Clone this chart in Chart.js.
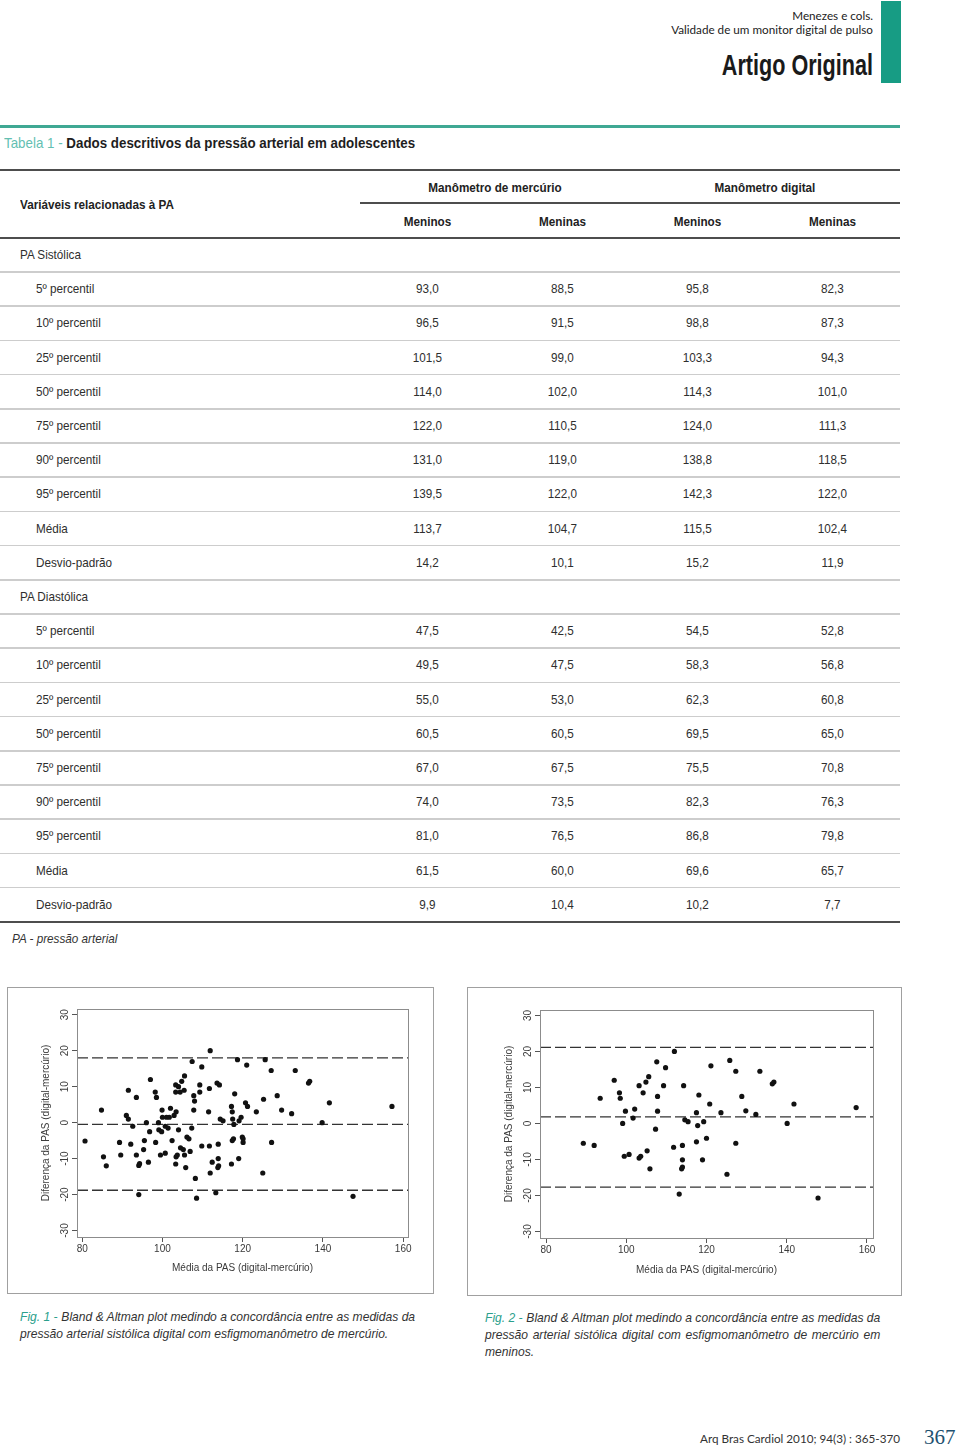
<!DOCTYPE html>
<html lang="pt">
<head>
<meta charset="utf-8">
<script src="https://cdn.jsdelivr.net/npm/chart.js@4.4.1/dist/chart.umd.min.js"></script>
<style>
  body { margin: 0; width: 960px; height: 1451px; position: relative; background: #fff; overflow: hidden;
         font-family: "Liberation Sans Narrow", "Liberation Sans", Arial, sans-serif; color: #2e2e2e; }
  .abs { position: absolute; white-space: nowrap; }
  .cab { font-family: Lato, "Open Sans", sans-serif; font-size: 11.7px; color: #222; right: 87px; }
  #artigo { right: 87px; top: 48px; font-size: 30px; font-weight: bold; color: #1a1a1a; transform: scaleX(0.72); transform-origin: right center; }
  #barra { left: 881px; top: 1px; width: 20px; height: 82px; background: #179c84; }
  #linhaVerde { left: 0; top: 125px; width: 900px; height: 2.5px; background: #3fa893; }
  #tabTitulo { left: 4px; top: 134px; font-size: 15px; font-weight: bold; color: #1e1e1e; transform: scaleX(0.89); transform-origin: left center; }
  #tabTitulo span { color: #63bfb2; font-weight: normal; }
  .regra { position: absolute; background: #4d4d4d; }
  .fina { position: absolute; background: #cdcdcd; left: 0; width: 900px; height: 1.5px; }
  .hd { font-weight: bold; font-size: 13px; color: #222; transform: scaleX(0.9); }
  .esq { transform-origin: left center; }
  .cel { position: absolute; font-size: 13px; text-align: center; width: 135px; transform: scaleX(0.9); }
  .rot { position: absolute; font-size: 13px; white-space: nowrap; transform: scaleX(0.9); transform-origin: left center; }
  .caixa { position: absolute; border: 1px solid #a0a0a0; box-sizing: border-box; }
  .leg { position: absolute; font-size: 13px; font-style: italic; line-height: 17px; color: #333;
         transform: scaleX(0.93); transform-origin: left top; white-space: nowrap; }
  .leg .ln { display: flex; gap: 4px; }
  .leg .fig { color: #2aa08c; }
  .leg .just { flex: 1; text-align: justify; text-align-last: justify; }
</style>
</head>
<body>
<div class="abs cab" style="top:8px">Menezes e cols.</div>
<div class="abs cab" style="top:22px">Validade de um monitor digital de pulso</div>
<div class="abs" id="artigo">Artigo Original</div>
<div class="abs" id="barra"></div>
<div class="abs" id="linhaVerde"></div>
<div class="abs" id="tabTitulo"><span>Tabela 1 -</span> Dados descritivos da pressão arterial em adolescentes</div>
<div id="tabela"></div>
<div class="abs" style="left:12px;top:931px;font-size:13px;font-style:italic;color:#333;transform:scaleX(0.9);transform-origin:left center">PA - pressão arterial</div>

<div class="caixa" style="left:7px;top:987px;width:427px;height:307px"><canvas id="fig1" width="425" height="305"></canvas></div>
<div class="caixa" style="left:467px;top:987px;width:435px;height:309px"><canvas id="fig2" width="433" height="307"></canvas></div>

<div class="leg" style="left:20px;top:1308px;width:430px">
  <div class="ln"><span class="fig">Fig. 1 -</span><span>Bland &amp; Altman plot medindo a concordância entre as medidas da</span></div>
  <div>pressão arterial sistólica digital com esfigmomanômetro de mercúrio.</div>
</div>
<div class="leg" style="left:485px;top:1309px;width:425px">
  <div class="ln"><span class="fig">Fig. 2 -</span><span class="just">Bland &amp; Altman plot medindo a concordância entre as medidas da</span></div>
  <div class="just">pressão arterial sistólica digital com esfigmomanômetro de mercúrio em</div>
  <div>meninos.</div>
</div>

<div class="abs" style="right:60px;top:1431px;font-family:Lato,'Open Sans',sans-serif;font-size:11.7px;color:#333">Arq Bras Cardiol 2010; 94(3) : 365-370</div>
<div class="abs" style="left:924px;top:1425px;font-family:'Liberation Serif',serif;font-size:21px;color:#1f5170">367</div>

<script>
// Tabela 1
const grupos = ['PA Sistólica', 'PA Diastólica'];
const linhas = ['5º percentil', '10º percentil', '25º percentil', '50º percentil', '75º percentil',
                '90º percentil', '95º percentil', 'Média', 'Desvio-padrão'];
const sisMercMeninos = [93.0, 96.5, 101.5, 114.0, 122.0, 131.0, 139.5, 113.7, 14.2];
const sisMercMeninas = [88.5, 91.5, 99.0, 102.0, 110.5, 119.0, 122.0, 104.7, 10.1];
const sisDigMeninos = [95.8, 98.8, 103.3, 114.3, 124.0, 138.8, 142.3, 115.5, 15.2];
const sisDigMeninas = [82.3, 87.3, 94.3, 101.0, 111.3, 118.5, 122.0, 102.4, 11.9];
const diaMercMeninos = [47.5, 49.5, 55.0, 60.5, 67.0, 74.0, 81.0, 61.5, 9.9];
const diaMercMeninas = [42.5, 47.5, 53.0, 60.5, 67.5, 73.5, 76.5, 60.0, 10.4];
const diaDigMeninos = [54.5, 58.3, 62.3, 69.5, 75.5, 82.3, 86.8, 69.6, 10.2];
const diaDigMeninas = [52.8, 56.8, 60.8, 65.0, 70.8, 76.3, 79.8, 65.7, 7.7];

// Fig. 1 - todos (média x diferença)
const fig1Media = [80.7, 84.8, 85.3, 86.0, 89.3, 89.6, 91.0, 91.5, 91.5, 92.1, 92.6, 93.5, 93.5, 94.1, 94.1,
  94.3, 95.3, 95.5, 96.0, 96.5, 96.8, 97.0, 98.2, 98.3, 98.5, 99.0, 99.1, 99.5, 99.8, 99.9, 100.0, 100.7,
  100.7, 101.0, 101.4, 101.7, 102.0, 102.4, 102.9, 103.3, 103.3, 103.3, 103.4, 103.4, 103.7, 104.0, 104.0,
  104.4, 104.5, 104.8, 105.2, 105.4, 105.5, 105.5, 105.8, 106.1, 106.6, 106.9, 107.3, 107.4, 107.8, 107.8,
  108.0, 108.2, 108.5, 109.3, 109.3, 109.8, 109.8, 111.5, 111.7, 111.7, 111.9, 111.9, 112.4, 113.3, 113.6,
  113.8, 113.9, 113.9, 114.0, 114.2, 114.4, 115.1, 117.2, 117.2, 117.4, 117.4, 117.5, 117.7, 117.8, 118.0,
  118.7, 119.0, 119.1, 119.6, 119.9, 120.1, 120.1, 120.7, 121.0, 121.2, 123.4, 125.0, 125.2, 125.6, 127.1,
  127.2, 128.6, 129.7, 132.2, 133.1, 136.4, 136.7, 139.8, 141.6, 147.5, 157.2];
const fig1Dif = [-5.1, 3.5, -9.5, -12.0, -5.5, -9.0, 2.0, 1.0, 9.0, -6.0, -1.0, 7.0, -9.0, -20.0, -11.9,
  -11.4, -7.5, -5.0, 0.0, -11.0, -2.5, 12.0, 8.5, -5.5, 7.0, 0.0, -2.0, -9.0, -2.5, 3.5, 1.5, -1.0,
  -8.5, 1.5, -1.5, 1.5, 4.0, -5.0, 2.0, 8.5, 10.5, -11.5, 3.0, -9.5, -9.0, -2.0, 10.0,
  8.5, -7.0, 11.5, -7.5, 9.0, 13.0, -9.0, -12.5, -4.0, -4.5, -8.0, -1.5, 17.0, 7.5, 3.5,
  6.0, -15.5, -21.0, 8.5, 10.5, 15.5, -6.5, 3.0, 9.5, -6.5, 20.0, -14.0, -11.0, -19.5, 11.0,
  -12.5, -6.0, -10.0, -12.0, 10.5, 1.0, 0.5, 4.5, -11.5, 3.0, -5.0, 1.0, -4.5, -0.5, 8.0,
  17.5, -10.0, 0.5, 1.5, -4.0, -4.5, -5.5, 5.5, 16.0, 4.5, 3.0, -14.0, 6.5, 17.5, 14.5,
  -5.5, 7.5, 3.5, 2.5, 14.5, 11.0, 11.5, 0.0, 5.5, -20.5, 4.5];
const fig1Linhas = [18.0, -0.5, -18.8];

// Fig. 2 - meninos
const fig2Media = [89.3, 92.0, 93.5, 97.0, 98.3, 98.5, 99.1, 99.5, 99.8, 100.7, 101.7, 102.1, 103.2, 103.2,
  103.6, 104.2, 104.9, 105.2, 105.6, 105.9, 107.3, 107.6, 107.8, 107.8, 109.3, 109.8, 111.8, 112.0, 113.2,
  113.8, 114.0, 114.0, 114.0, 114.3, 114.6, 115.4, 117.5, 117.5, 117.8, 118.1, 119.0, 119.3, 120.0, 120.8,
  121.1, 123.6, 125.1, 125.8, 127.3, 127.3, 128.8, 129.8, 132.3, 133.3, 136.4, 136.8, 140.1, 141.8, 147.8, 157.3];
const fig2Dif = [-5.5, -6.1, 7.0, 12.0, 8.5, 7.0, 0.0, -9.1, 3.4, -8.6, 1.5, 4.0, 10.5, -9.6,
  -9.1, 8.5, 11.5, -7.6, 13.0, -12.6, -1.6, 17.1, 7.5, 3.4, 10.5, 15.5, -6.6, 20.0, -19.6,
  -12.6, -12.1, -6.1, -10.1, 10.5, 1.0, 0.5, 3.0, -5.1, -0.6, 7.9, -10.1, 0.5, -4.1, 5.4,
  16.0, 3.0, -14.1, 17.5, 14.5, -5.5, 7.5, 3.5, 2.5, 14.5, 11.0, 11.5, 0.0, 5.4, -20.7, 4.4];
const fig2Linhas = [21.1, 1.85, -17.7];

const eixoX = [80, 100, 120, 140, 160];
const eixoY = [-30, -20, -10, 0, 10, 20, 30];

// ---- monta a tabela
const tab = document.getElementById('tabela');
function add(cls, css, txt) {
  const d = document.createElement('div');
  d.className = cls;
  d.style.cssText = css;
  if (txt !== undefined) d.textContent = txt;
  tab.appendChild(d);
}
const colX = [360, 495, 630, 765];
add('regra', 'left:0;top:169px;width:900px;height:2px');
add('abs hd', 'left:360px;width:270px;text-align:center;top:180px', 'Manômetro de mercúrio');
add('abs hd', 'left:630px;width:270px;text-align:center;top:180px', 'Manômetro digital');
add('regra', 'left:360px;top:202px;width:540px;height:1.5px');
add('abs hd esq', 'left:20px;top:197px', 'Variáveis relacionadas à PA');
['Meninos', 'Meninas', 'Meninos', 'Meninas'].forEach((t, k) =>
  add('abs hd', `left:${colX[k]}px;width:135px;text-align:center;top:214px`, t));
add('regra', 'left:0;top:237px;width:900px;height:2px');

const blocos = [[sisMercMeninos, sisMercMeninas, sisDigMeninos, sisDigMeninas],
                [diaMercMeninos, diaMercMeninas, diaDigMeninos, diaDigMeninas]];
const fmt = v => v.toFixed(1).replace('.', ',');
const altura = 34.2;
let r = 0;
grupos.forEach((g, gi) => {
  const top = 238 + r * altura;
  add('rot', `left:20px;top:${top}px;line-height:${altura}px`, g);
  add('fina', `top:${top + altura - 1}px`);
  r++;
  linhas.forEach((l, li) => {
    const t = 238 + r * altura;
    add('rot', `left:36px;top:${t}px;line-height:${altura}px`, l);
    blocos[gi].forEach((serie, k) =>
      add('cel', `left:${colX[k]}px;top:${t}px;line-height:${altura}px`, fmt(serie[li])));
    if (!(gi === 1 && li === linhas.length - 1)) add('fina', `top:${t + altura - 1}px`);
    r++;
  });
});
add('regra', `left:0;top:${238 + r * altura - 1}px;width:900px;height:2px`);

// ---- gráficos Bland & Altman
const fonte = { family: '"Liberation Sans", Arial, sans-serif', size: 10 };
const corTexto = '#3a3a3a';

const moldura = {
  id: 'moldura',
  afterDatasetsDraw(chart) {
    const a = chart.chartArea, ctx = chart.ctx;
    ctx.save();
    ctx.strokeStyle = '#8c8c8c';
    ctx.lineWidth = 1;
    ctx.strokeRect(Math.round(a.left) + 0.5, Math.round(a.top) + 0.5, Math.round(a.width), Math.round(a.height));
    ctx.restore();
  }
};

function blandAltman(id, media, dif, limites, lim, lay) {
  const pontos = media.map((m, i) => ({ x: m, y: dif[i] }));
  const tracejadas = limites.map(v => ({
    data: [{ x: lim.x[0], y: v }, { x: lim.x[1], y: v }],
    showLine: true, pointRadius: 0, borderColor: '#333', borderWidth: 1.3, borderDash: [11, 4]
  }));
  new Chart(document.getElementById(id), {
    type: 'scatter',
    data: {
      datasets: [{ data: pontos, pointRadius: 2.6, pointHoverRadius: 2.6, backgroundColor: '#111', borderWidth: 0 },
                 ...tracejadas]
    },
    options: {
      responsive: false,
      animation: false,
      events: [],
      layout: { padding: { top: lay.top, right: lay.right, left: 0, bottom: 0 } },
      plugins: { legend: { display: false }, tooltip: { enabled: false } },
      scales: {
        x: {
          type: 'linear', min: lim.x[0], max: lim.x[1],
          afterBuildTicks: s => { s.ticks = eixoX.map(v => ({ value: v })); },
          afterFit: s => { s.height = lay.xH; },
          grid: { drawOnChartArea: false, tickLength: 5, tickColor: '#555' },
          border: { display: false },
          ticks: { font: fonte, color: corTexto, padding: 1, maxRotation: 0 },
          title: { display: true, text: 'Média da PAS (digital-mercúrio)', font: fonte, color: corTexto,
                   padding: { top: 0, bottom: lay.xTitle } }
        },
        y: {
          type: 'linear', min: lim.y[0], max: lim.y[1],
          afterBuildTicks: s => { s.ticks = eixoY.map(v => ({ value: v })); },
          afterFit: s => { s.width = lay.yW; },
          grid: { drawOnChartArea: false, tickLength: 5, tickColor: '#555' },
          border: { display: false },
          ticks: { font: fonte, color: corTexto, padding: 0, minRotation: 90, maxRotation: 90, crossAlign: 'center' },
          title: { display: true, text: 'Diferença da PAS (digital-mercúrio)', font: fonte, color: corTexto,
                   padding: { top: lay.yTitle, bottom: 0 } }
        }
      }
    },
    plugins: [moldura]
  });
}

blandAltman('fig1', fig1Media, fig1Dif, fig1Linhas,
  { x: [78.7, 161.2], y: [-31.8, 31.6] },
  { top: 21, right: 25, xH: 56, yW: 69, xTitle: 19, yTitle: 32 });
blandAltman('fig2', fig2Media, fig2Dif, fig2Linhas,
  { x: [78.5, 161.5], y: [-31.8, 31.5] },
  { top: 22, right: 28, xH: 57, yW: 72, xTitle: 19, yTitle: 35 });
</script>
</body>
</html>
